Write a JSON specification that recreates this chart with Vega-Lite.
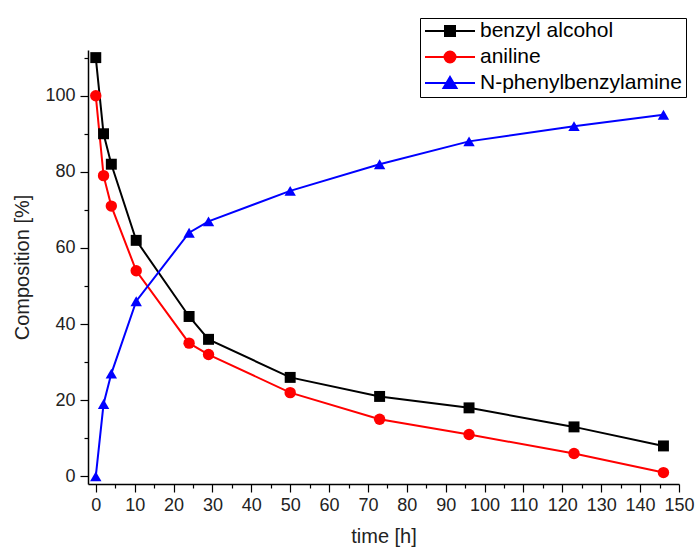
{
  "$schema": "https://vega.github.io/schema/vega-lite/v6.json",
  "width": 591,
  "height": 434,
  "autosize": {"type": "none"},
  "padding": {"left": 88, "top": 50, "right": 16, "bottom": 63},
  "background": "white",
  "config": {
    "view": {"stroke": null},
    "font": "Liberation Sans",
    "axis": {
      "domainColor": "black", "domainWidth": 1.5, "tickColor": "black", "tickWidth": 1.2,
      "labelColor": "#222", "labelFont": "Liberation Sans", "labelFontSize": 18,
      "titleFont": "Liberation Sans", "titleFontSize": 20, "titleFontWeight": "normal", "titleColor": "#222",
      "grid": false
    }
  },
  "data": {"values": [
    {"t": 0, "v": 110, "s": "benzyl alcohol"},
    {"t": 2, "v": 90, "s": "benzyl alcohol"},
    {"t": 4, "v": 82, "s": "benzyl alcohol"},
    {"t": 10.4, "v": 62, "s": "benzyl alcohol"},
    {"t": 24, "v": 42, "s": "benzyl alcohol"},
    {"t": 29, "v": 36, "s": "benzyl alcohol"},
    {"t": 50, "v": 26, "s": "benzyl alcohol"},
    {"t": 73, "v": 21, "s": "benzyl alcohol"},
    {"t": 96, "v": 18, "s": "benzyl alcohol"},
    {"t": 123, "v": 13, "s": "benzyl alcohol"},
    {"t": 146, "v": 8, "s": "benzyl alcohol"},
    {"t": 0, "v": 100, "s": "aniline"},
    {"t": 2, "v": 79, "s": "aniline"},
    {"t": 4, "v": 71, "s": "aniline"},
    {"t": 10.4, "v": 54, "s": "aniline"},
    {"t": 24, "v": 35, "s": "aniline"},
    {"t": 29, "v": 32, "s": "aniline"},
    {"t": 50, "v": 22, "s": "aniline"},
    {"t": 73, "v": 15, "s": "aniline"},
    {"t": 96, "v": 11, "s": "aniline"},
    {"t": 123, "v": 6, "s": "aniline"},
    {"t": 146, "v": 1, "s": "aniline"},
    {"t": 0, "v": 0, "s": "N-phenylbenzylamine"},
    {"t": 2, "v": 19, "s": "N-phenylbenzylamine"},
    {"t": 4, "v": 27, "s": "N-phenylbenzylamine"},
    {"t": 10.4, "v": 46, "s": "N-phenylbenzylamine"},
    {"t": 24, "v": 64, "s": "N-phenylbenzylamine"},
    {"t": 29, "v": 67, "s": "N-phenylbenzylamine"},
    {"t": 50, "v": 75, "s": "N-phenylbenzylamine"},
    {"t": 73, "v": 82, "s": "N-phenylbenzylamine"},
    {"t": 96, "v": 88, "s": "N-phenylbenzylamine"},
    {"t": 123, "v": 92, "s": "N-phenylbenzylamine"},
    {"t": 146, "v": 95, "s": "N-phenylbenzylamine"}
  ]},
  "encoding": {
    "x": {"field": "t", "type": "quantitative",
      "scale": {"domain": [-2, 150], "nice": false, "zero": false},
      "axis": {"title": "time [h]", "values": [0,5,10,15,20,25,30,35,40,45,50,55,60,65,70,75,80,85,90,95,100,105,110,115,120,125,130,135,140,145,150],
        "labelExpr": "datum.value % 10 == 0 ? datum.label : ''",
        "tickSize": {"condition": {"test": "datum.value % 10 == 0", "value": 8}, "value": 4},
        "labelPadding": 4, "titlePadding": 12, "labelFlush": false, "labelOverlap": false}},
    "y": {"field": "v", "type": "quantitative",
      "scale": {"domain": [-2, 112], "nice": false, "zero": false},
      "axis": {"title": "Composition [%]", "values": [0,10,20,30,40,50,60,70,80,90,100,110],
        "labelExpr": "datum.value % 20 == 0 ? datum.label : ''",
        "tickSize": {"condition": {"test": "datum.value % 20 == 0", "value": 8}, "value": 4},
        "labelPadding": 5, "titlePadding": 12, "labelFlush": false, "labelOverlap": false}},
    "color": {"field": "s", "type": "nominal",
      "scale": {"domain": ["benzyl alcohol", "aniline", "N-phenylbenzylamine"], "range": ["#000000", "#ff0000", "#0000ff"]},
      "legend": {"orient": "none", "legendX": 332, "legendY": -32, "title": null,
        "strokeColor": "black", "padding": 4, "symbolSize": 2500, "clipHeight": 18, "rowPadding": 5,
        "labelFontSize": 21, "labelFont": "Liberation Sans", "labelColor": "black", "labelOffset": 4, "labelLimit": 400,
        "encode": {"symbols": {"update": {
          "shape": {"signal": "datum.value === 'benzyl alcohol' ? 'M-1,0H1M-0.2,-0.2H0.2V0.2H-0.2Z' : datum.value === 'aniline' ? 'M-1,0H1M-0.22,0A0.22,0.22 0 1,0 0.22,0A0.22,0.22 0 1,0 -0.22,0Z' : 'M-1,0H1M0,-0.24L0.26,0.2L-0.26,0.2Z'"},
          "fill": {"scale": "color", "field": "value"},
          "stroke": {"scale": "color", "field": "value"},
          "strokeWidth": {"value": 2},
          "size": {"value": 2500},
          "opacity": {"value": 1}
        }}}}}
  },
  "layer": [
    {"mark": {"type": "line", "strokeWidth": 2}},
    {"transform": [{"filter": "datum.s === 'benzyl alcohol'"}],
     "mark": {"type": "point", "shape": "square", "filled": true, "opacity": 1, "size": 120}},
    {"transform": [{"filter": "datum.s === 'aniline'"}],
     "mark": {"type": "point", "shape": "circle", "filled": true, "opacity": 1, "size": 130}},
    {"transform": [{"filter": "datum.s === 'N-phenylbenzylamine'"}],
     "mark": {"type": "point", "shape": "triangle-up", "filled": true, "opacity": 1, "size": 130}}
  ]
}
